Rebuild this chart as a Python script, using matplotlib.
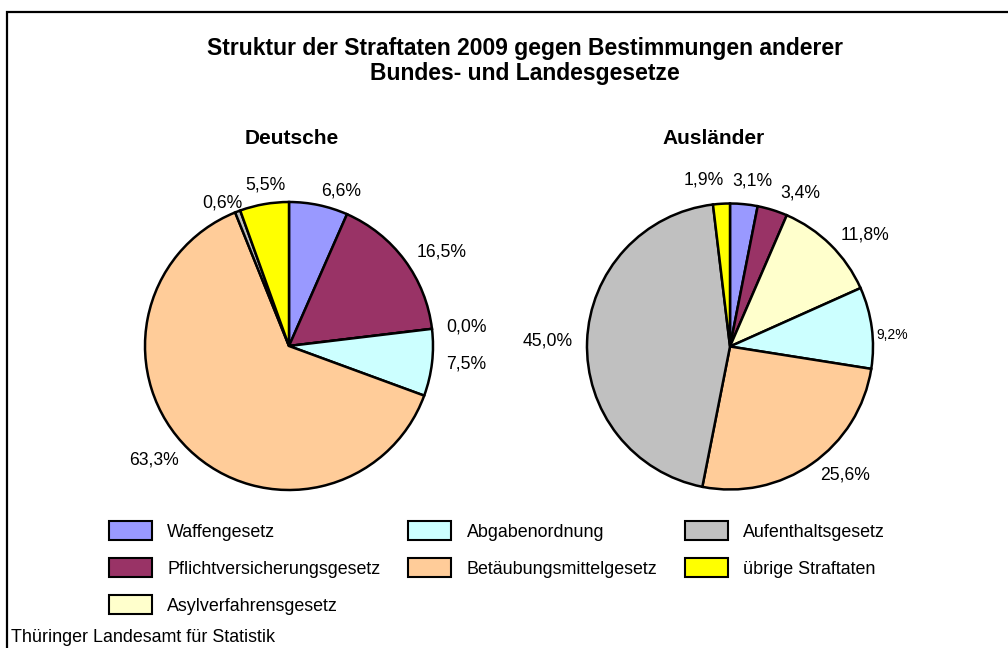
import matplotlib
matplotlib.use("Agg")
import matplotlib.pyplot as plt
from matplotlib.patches import Rectangle, Patch

plt.rcParams['font.family'] = ['Liberation Sans', 'DejaVu Sans']

W, H = 1008, 648

categories = ["Waffengesetz", "Pflichtversicherungsgesetz", "Asylverfahrensgesetz",
              "Abgabenordnung", "Betäubungsmittelgesetz", "Aufenthaltsgesetz",
              "übrige Straftaten"]
colors = ["#9999FF", "#993366", "#FFFFCC", "#CCFFFF", "#FFCC99", "#C0C0C0", "#FFFF00"]

deutsche = [6.6, 16.5, 0.0, 7.5, 63.3, 0.6, 5.5]
auslaender = [3.1, 3.4, 11.8, 9.2, 25.6, 45.0, 1.9]

# small label shifts in pixels (right, down), like Excel's "best fit" for crowded labels
deutsche_nudge = {5: (10, 5), 6: (24, -5)}
auslaender_nudge = {0: (-13, -9), 1: (4, -3), 3: (-10, 9), 6: (3, -9)}


def fmt(v):
    return f"{v:.1f}%".replace(".", ",")


def pie_axes(fig, cx, cy, r):
    # cx, cy, r in pixels, origin top-left
    half = 1.25 * r
    return fig.add_axes([(cx - half) / W, 1 - (cy + half) / H, 2 * half / W, 2 * half / H])


def draw_pie(ax, values, title, title_x, r, nudge):
    wedges, texts = ax.pie(values, colors=colors, startangle=90, counterclock=False,
                           labels=[fmt(v) for v in values], labeldistance=1.1,
                           wedgeprops=dict(edgecolor="black", linewidth=1.8),
                           textprops=dict(fontsize=12.7))
    for i, (dx, dy) in nudge.items():
        x, y = texts[i].get_position()
        texts[i].set_position((x + dx / r, y - dy / r))
    ax.set_xlim(-1.25, 1.25)
    ax.set_ylim(-1.25, 1.25)
    ax.set_aspect("equal")
    ax.figure.text(title_x / W, 1 - 138 / H, title, ha="center", va="center",
                   fontsize=15, fontweight="bold")
    return texts


fig = plt.figure(figsize=(W / 100, H / 100), dpi=100)

ax1 = pie_axes(fig, 289, 346, 144)
draw_pie(ax1, deutsche, "Deutsche", 292, 144, deutsche_nudge)

ax2 = pie_axes(fig, 730, 346.5, 143)
texts2 = draw_pie(ax2, auslaender, "Ausländer", 714, 143, auslaender_nudge)
texts2[3].set_fontsize(10)

fig.text(525 / W, 1 - 61 / H,
         "Struktur der Straftaten 2009 gegen Bestimmungen anderer\nBundes- und Landesgesetze",
         ha="center", va="center", fontsize=16.5, fontweight="bold", linespacing=1.15)

handles = [Patch(facecolor=c, edgecolor="black", linewidth=1.5) for c in colors]
fig.legend(handles, categories, loc="upper left", bbox_to_anchor=(109 / W, 1 - 521 / H),
           ncol=3, frameon=False, fontsize=12.9, borderpad=0, borderaxespad=0,
           handlelength=2.4, handleheight=1.28, handletextpad=0.85,
           columnspacing=1.55, labelspacing=0.97)

# outer frame (only left and top edges are inside the picture)
fig.add_artist(Rectangle((7 / W, -0.1), 1.2, 1.1 - 12.5 / H, transform=fig.transFigure,
                         fill=False, edgecolor="black", linewidth=1.6))

fig.text(11 / W, 1 - 637 / H, "Thüringer Landesamt für Statistik", ha="left", va="center",
         fontsize=12.9)

fig.savefig("out.png", dpi=100)
